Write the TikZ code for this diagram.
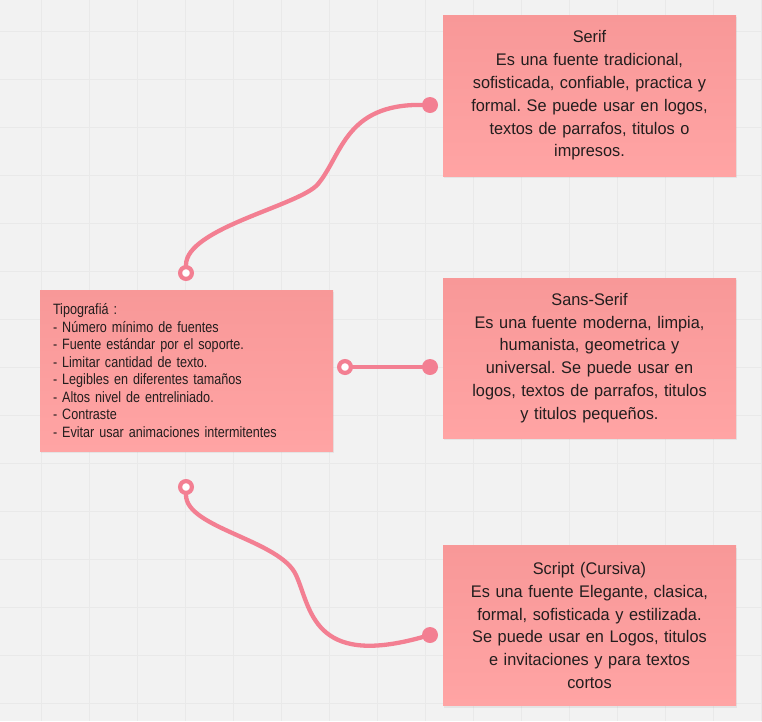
\documentclass[tikz,border=0pt]{standalone}
\usepackage{fontspec}
\setmainfont{Liberation Sans}[FakeStretch=0.84]
\newfontfamily\kindfont{Liberation Sans}[FakeStretch=0.97]
\usepackage{xcolor}
\usetikzlibrary{shadows}
\frenchspacing
\definecolor{boardgray}{RGB}{242,242,242}
\definecolor{gridgray}{RGB}{233,233,233}
\definecolor{notetop}{RGB}{248,152,152}
\definecolor{notebot}{RGB}{255,164,164}
\definecolor{linkpink}{RGB}{243,127,146}
\definecolor{inkgray}{RGB}{35,30,30}

\begin{document}
\begin{tikzpicture}[x=1pt, y=-1pt,
  gridline/.style={draw=gridgray, line width=1pt},
  note/.style={
    rectangle, minimum width=293pt, minimum height=161pt,
    inner xsep=13pt, inner ysep=0pt, text width=267pt,
    top color=notetop, bottom color=notebot, draw=none,
    drop shadow={opacity=0.12, shadow xshift=1pt, shadow yshift=-2pt},
    text=inkgray
  },
  topic/.style={note, align=left, font=\fontsize{15}{17.5}\selectfont},
  kind/.style={note, align=center, font=\kindfont\fontsize{16.8}{22.8}\selectfont},
  socket/.style={circle, draw=linkpink, line width=4.2pt, fill=white,
    minimum size=11.8pt, inner sep=0pt},
  endpt/.style={circle, fill=linkpink, minimum size=16pt, inner sep=0pt},
  link/.style={draw=linkpink, line width=4.3pt, line cap=round}
]
  \fill[boardgray] (0,0) rectangle (762,721);
  \useasboundingbox (0,0) rectangle (762,721);
  \foreach \gx in {41,89,...,761} \draw[gridline] (\gx,0) -- (\gx,721);
  \foreach \gy in {31.5,79.5,...,703.5} \draw[gridline] (0,\gy) -- (762,\gy);

  \node[topic] (tipo) at (186.5,370.5) {Tipografiá :\\
    - Número mínimo de fuentes\\
    - Fuente estándar por el soporte.\\
    - Limitar cantidad de texto.\\
    - Legibles en diferentes tamaños\\
    - Altos nivel de entreliniado.\\
    - Contraste\\
    - Evitar usar animaciones intermitentes};

  \node[kind] (serif) at (589.5,95.5) {Serif\\
    Es una fuente tradicional,\\
    sofisticada, confiable, practica y\\
    formal. Se puede usar en logos,\\
    textos de parrafos, titulos o\\
    impresos.};
  \node[kind, minimum height=160pt] (sans) at (589.5,358) {Sans-Serif\\
    Es una fuente moderna, limpia,\\
    humanista, geometrica y\\
    universal. Se puede usar en\\
    logos, textos de parrafos, titulos\\
    y titulos pequeños.};
  \node[kind, minimum height=160pt] (script) at (589.5,625.5) {Script (Cursiva)\\
    Es una fuente Elegante, clasica,\\
    formal, sofisticada y estilizada.\\
    Se puede usar en Logos, titulos\\
    e invitaciones y para textos\\
    cortos};

  \node[socket] (h1) at (186,273) {};
  \node[socket] (h2) at (345,367) {};
  \node[socket] (h3) at (186,487) {};
  \node[endpt] (d1) at (430,105) {};
  \node[endpt] (d2) at (430,367) {};
  \node[endpt] (d3) at (430,635) {};
  \coordinate (m1) at (318,184);
  \coordinate (m3) at (296,575);

  \draw[link] (h1) .. controls (186,228) and (300,205.6) .. (m1)
    .. controls (342,155.2) and (345,104) .. (d1);
  \draw[link] (h2) -- (d2);
  \draw[link] (h3) .. controls (186,528) and (280,540) .. (m3)
    .. controls (311,608) and (312,668) .. (d3);
\end{tikzpicture}
\end{document}
